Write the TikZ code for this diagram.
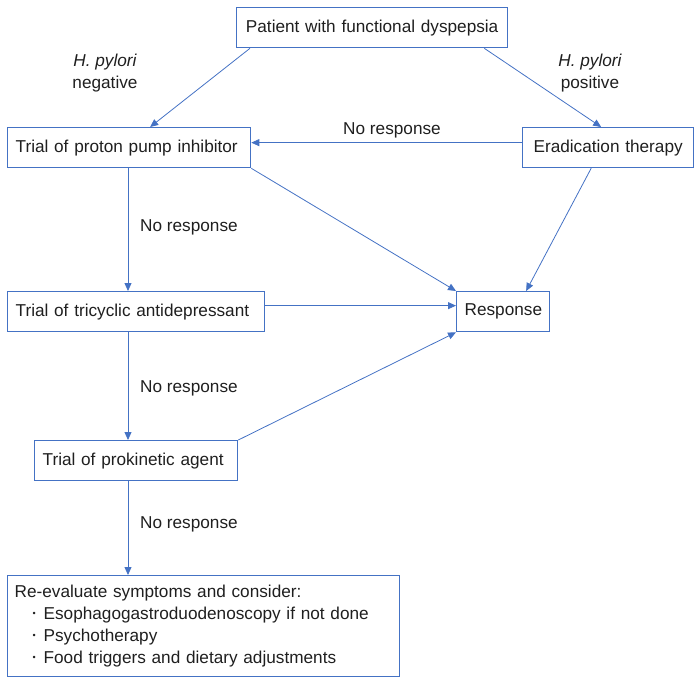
\documentclass[tikz,border=0pt]{standalone}
\usepackage{fontspec}
\setmainfont{Liberation Sans}
\usetikzlibrary{arrows.meta,calc}
\definecolor{bblue}{HTML}{4472C4}
\definecolor{txt}{HTML}{1F1F1F}
\newcommand\fsz{\fontsize{17.2}{22}\selectfont}
\newcommand\smallbul{\raisebox{0.3ex}{\fontsize{9}{9}\selectfont\textbullet}}
\begin{document}
\begin{tikzpicture}[x=1pt,y=-1pt,
  box/.style={draw=bblue,line width=1.3pt,inner xsep=8pt,inner ysep=0pt,minimum height=40pt,anchor=north west,text=txt,font=\fsz,align=left},
  conn/.style={draw=bblue,line width=0.8pt,-{Triangle[length=8pt,width=7pt]}},
  lbl/.style={text=txt,font=\fsz,inner sep=0pt}]
\useasboundingbox (0,0) rectangle (694,678);

\node[box,text width=255pt,align=center] (pat) at (236,7) {Patient with functional dyspepsia};
\node[box,text width=227pt] (ppi) at (7,127) {Trial of proton pump inhibitor};
\node[box,text width=155pt,align=center] (erad) at (522,127) {Eradication therapy};
\node[box,text width=241pt] (tca) at (7,291) {Trial of tricyclic antidepressant};
\node[box,text width=77pt,align=center] (resp) at (456,291) {Response};
\node[box,text width=187pt] (prok) at (34,440) {Trial of prokinetic agent};
\node[box,text width=378pt,inner xsep=7pt,minimum height=101pt] (reev) at (7,575) {Re-evaluate symptoms and consider:\\
\hspace*{18pt}\makebox[11pt][l]{\smallbul}Esophagogastroduodenoscopy if not done\\
\hspace*{18pt}\makebox[11pt][l]{\smallbul}Psychotherapy\\
\hspace*{18pt}\makebox[11pt][l]{\smallbul}Food triggers and dietary adjustments};

% labels
\node[lbl,font=\fsz\itshape] (hneg) at (105,62) {H. pylori};
\node[lbl] (neg) at (105,84) {negative};
\node[lbl,font=\fsz\itshape] (hpos) at (590,62) {H. pylori};
\node[lbl] (pos) at (590,84) {positive};
\node[lbl] (nr1) at (392,130) {No response};
\node[lbl,anchor=west] (nr2) at (140,227) {No response};
\node[lbl,anchor=west] (nr3) at (140,388) {No response};
\node[lbl,anchor=west] (nr4) at (140,524) {No response};

% helper coordinates
\coordinate (pa) at ([xshift=14pt]pat.south west);
\coordinate (pb) at ([xshift=-24pt]pat.south east);
\coordinate (ea) at ([xshift=-17pt]erad.south);
\coordinate (ra) at ([xshift=23pt]resp.north);
\coordinate (xa) at ([xshift=121pt]ppi.south west);
\coordinate (xb) at ([xshift=121pt]tca.south west);
\coordinate (xc) at ([xshift=94pt]prok.south west);

% connectors
\draw[conn] (pa) -- ([xshift=21pt]ppi.north);
\draw[conn] (pb) -- ([xshift=-7pt]erad.north);
\draw[conn] ([yshift=5pt]erad.west) -- ([yshift=5pt]ppi.east);
\draw[conn] (xa) -- (xa |- tca.north);
\draw[conn] (ppi.south east) -- (resp.north west);
\draw[conn] (ea) -- (ra);
\draw[conn] ([yshift=6pt]tca.east) -- ([yshift=6pt]resp.west);
\draw[conn] (xb) -- (xb |- prok.north);
\draw[conn] (prok.north east) -- (resp.south west);
\draw[conn] (xc) -- (xc |- reev.north);
\end{tikzpicture}
\end{document}
